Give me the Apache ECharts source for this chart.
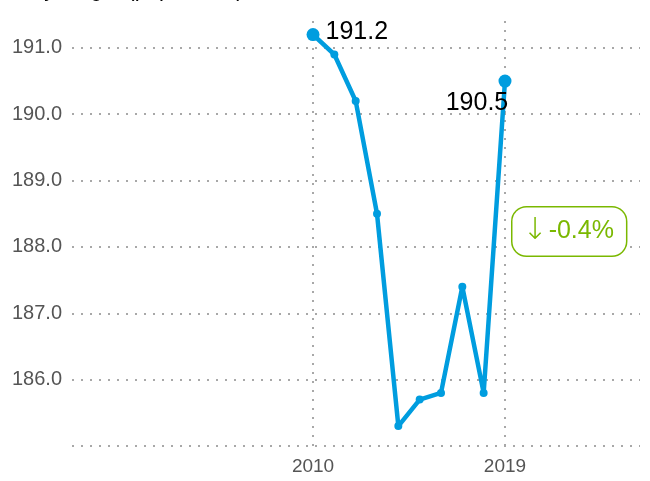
<!DOCTYPE html>
<html>
<head>
<meta charset="utf-8">
<script src="https://cdn.jsdelivr.net/npm/echarts@6/dist/echarts.min.js"></script>
<style>
  html, body { margin: 0; padding: 0; background: #fff; }
  #chart { width: 650px; height: 481px; }
</style>
</head>
<body>
<div id="chart"></div>
<script>
// data
const years = [2010, 2011, 2012, 2013, 2014, 2015, 2016, 2017, 2018, 2019]
const values = [191.2, 190.9, 190.2, 188.5, 185.3, 185.7, 185.8, 187.4, 185.8, 190.5]
const xTicks = [2010, 2019]
const yTicks = [185, 186, 187, 188, 189, 190, 191]
const yLabels = [186, 187, 188, 189, 190, 191]
const changeArrow = '↓'
const changeText = '-0.4%'

const blue = '#009ddf'
const green = '#7ab800'
const font = 'Liberation Sans'
const dotted = { color: '#a8a8a8', width: 2, type: [2, 7] }

const chart = echarts.init(document.getElementById('chart'))

const points = years.map((y, i) => {
  const last = i === years.length - 1
  const first = i === 0
  const p = { value: [y, values[i]], symbolSize: (first || last) ? 13 : 8 }
  if (first) {
    p.label = { show: true, position: 'right', distance: 6, offset: [0, -2] }
  }
  if (last) {
    p.label = { show: true, position: 'bottom', distance: 2, offset: [-28, 1] }
  }
  return p
})

chart.setOption({
  animation: false,
  title: {
    text: 'Body height (population)',
    left: 0,
    top: -26,
    textStyle: { fontFamily: font, fontSize: 22, fontWeight: 'normal', color: '#000' }
  },
  grid: { left: 72, right: 10, top: 18, bottom: 35, containLabel: false },
  xAxis: {
    type: 'value',
    min: 1998.7,
    max: 2025.33,
    axisLine: { show: false },
    axisTick: { show: false },
    splitLine: { show: false },
    axisLabel: {
      customValues: xTicks,
      color: '#555',
      fontFamily: font,
      fontSize: 19,
      margin: 11,
      formatter: v => String(v)
    }
  },
  yAxis: {
    type: 'value',
    min: 185,
    max: 191.45,
    axisLine: { show: false },
    axisTick: { show: false },
    splitLine: { show: false },
    axisLabel: {
      customValues: yLabels,
      color: '#555',
      fontFamily: font,
      fontSize: 20,
      margin: 10,
      formatter: v => v.toFixed(1)
    }
  },
  series: [{
    type: 'line',
    data: points,
    symbol: 'circle',
    lineStyle: { color: blue, width: 4.5 },
    itemStyle: { color: blue },
    label: {
      color: '#000',
      fontFamily: font,
      fontSize: 25,
      formatter: p => p.value[1].toFixed(1)
    },
    markLine: {
      silent: true,
      symbol: 'none',
      label: { show: false },
      lineStyle: dotted,
      z: 0,
      data: xTicks.map(x => ({ xAxis: x })).concat(yTicks.map(y => ({ yAxis: y })))
    },
    z: 5
  }],
  graphic: [{
    type: 'text',
    left: 511,
    top: 206,
    style: {
      text: '{a|' + changeArrow + '}{b|' + changeText + '}',
      fill: green,
      rich: {
        a: { fontFamily: 'DejaVu Sans', fontSize: 30, fontWeight: 200, color: green, padding: [0, 1, 0, 0] },
        b: { fontFamily: font, fontSize: 25, color: green }
      },
      backgroundColor: '#fff',
      borderColor: green,
      borderWidth: 1.5,
      borderRadius: 14,
      padding: [9, 12, 9, 10]
    },
    z: 10
  }]
})
</script>
</body>
</html>
